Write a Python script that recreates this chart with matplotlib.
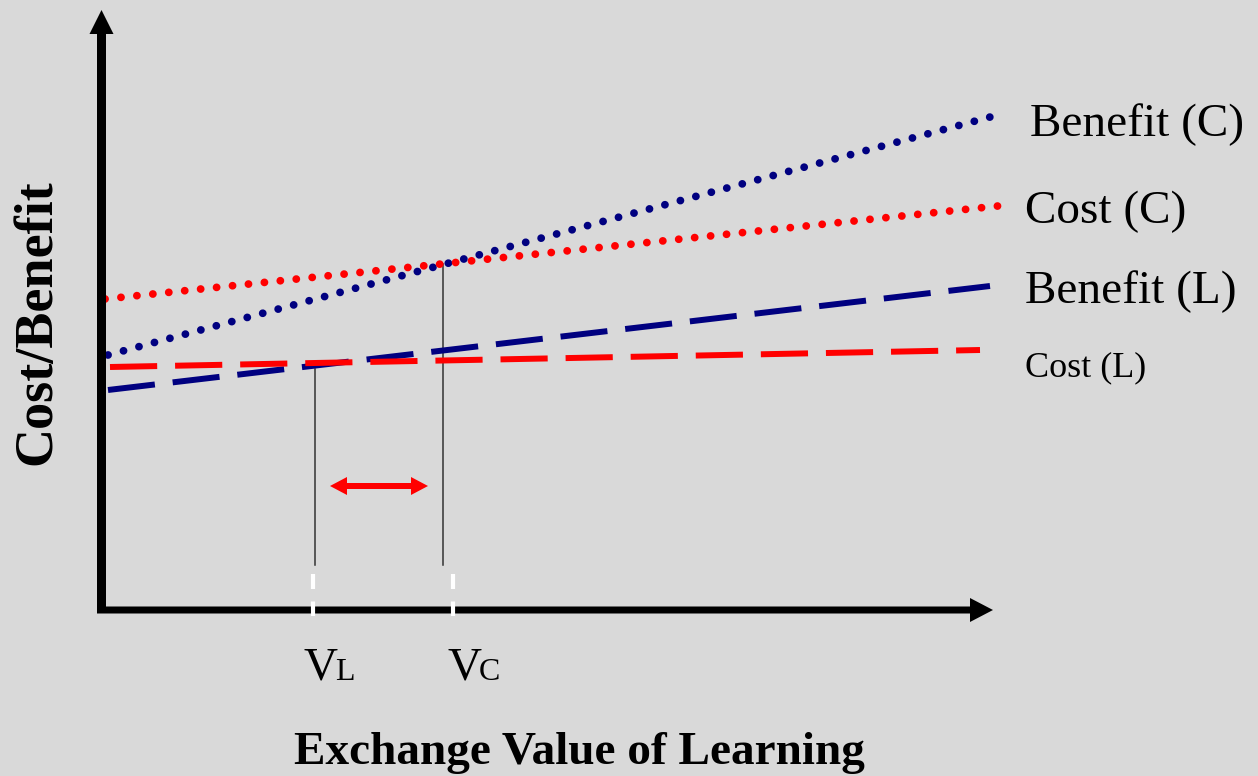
import matplotlib
matplotlib.use("Agg")
import matplotlib.pyplot as plt
from matplotlib.patches import FancyArrow
import numpy as np

# ---- data (arbitrary units; origin at axes crossing) ----
series_names = ["Benefit (C)", "Cost (C)", "Benefit (L)", "Cost (L)"]
x_start = [0.03, 0.00, 0.03, 0.05]
x_end = [9.00, 8.93, 8.85, 8.75]
y_start = [2.55, 3.11, 2.20, 2.43]
y_end = [4.97, 4.04, 3.24, 2.60]
series_colors = ["#000080", "#ff0000", "#000080", "#ff0000"]
series_kinds = ["dotted", "dotted", "dashed", "dashed"]

v_points = [2.10, 3.38]          # V_L, V_C
v_labels = [("V", "L"), ("V", "C")]
v_line_bottom = 0.45
arrow_span = [2.25, 3.23]
arrow_level = 1.24

BG = "#d9d9d9"
SERIF = ["Liberation Serif", "DejaVu Serif"]

fig = plt.figure(figsize=(12.58, 7.76), dpi=100, facecolor=BG)
ax = fig.add_axes([0, 0, 1, 1])
ax.set_facecolor(BG)
ax.set_xlim(-1.05, 11.53)
ax.set_ylim(-1.66, 6.10)
ax.axis("off")

# ---- series lines ----
for name, xs, xe, ys, ye, c, kind in zip(series_names, x_start, x_end, y_start, y_end,
                                          series_colors, series_kinds):
    if kind == "dotted":
        ax.plot([xs, xe], [ys, ye], color=c, lw=5.6, linestyle=(0, (0.01, 2.05)),
                dash_capstyle="round", zorder=3)
    else:
        ax.plot([xs, xe], [ys, ye], color=c, lw=4.3, linestyle=(0, (7.9, 3.0)),
                dash_capstyle="butt", zorder=3)

# labels of series
label_pos = {
    "Benefit (C)": (9.25, 4.85, 34),
    "Cost (C)": (9.20, 3.98, 34),
    "Benefit (L)": (9.20, 3.18, 34),
    "Cost (L)": (9.20, 2.42, 26),
}
for name in series_names:
    lx, ly, fs = label_pos[name]
    ax.text(lx, ly, name, fontsize=fs, family=SERIF, ha="left", va="center", color="black")

# ---- vertical lines at V points ----
def yval(i, x):
    return y_start[i] + (y_end[i] - y_start[i]) * (x - x_start[i]) / (x_end[i] - x_start[i])

ax.plot([v_points[0], v_points[0]], [v_line_bottom, yval(3, v_points[0]) - 0.06],
        color="#333333", lw=1.1, zorder=2)
ax.plot([v_points[1], v_points[1]], [v_line_bottom, yval(1, v_points[1])],
        color="#333333", lw=1.1, zorder=2)

# white dashes to axis
for vx in [v_points[0] - 0.02, v_points[1] + 0.10]:
    ax.plot([vx, vx], [0.36, -0.06], color="white", lw=3.0,
            linestyle=(0, (3.6, 3.0)), zorder=6)

# red double arrow (two heads from the middle)
mid = (arrow_span[0] + arrow_span[1]) / 2
for end in arrow_span:
    ax.add_patch(FancyArrow(mid, arrow_level, end - mid, 0, width=0.06, head_width=0.18,
                            head_length=0.17, length_includes_head=True,
                            color="#ff0000", lw=0, zorder=4))

# ---- axes arrows ----
ax.add_patch(FancyArrow(-0.035, -0.03, 0, 6.03 - 0.24, width=0.09, head_width=0.24,
                        head_length=0.24, length_includes_head=False,
                        color="black", zorder=5, lw=0))
ax.add_patch(FancyArrow(-0.08, 0.0, 8.88 + 0.08 - 0.23, 0, width=0.07, head_width=0.24,
                        head_length=0.23, length_includes_head=False,
                        color="black", zorder=5, lw=0))

# ---- V labels ----
for vx, (big, small), dx in zip(v_points, v_labels, [-0.12, 0.04]):
    ax.text(vx + dx, -0.70, big, fontsize=34, family=SERIF, ha="left", va="baseline")
    ax.annotate(small, xy=(vx + dx, -0.70), xytext=(32, 0), textcoords="offset pixels",
                fontsize=23, family=SERIF, ha="left", va="baseline")

# ---- axis titles ----
fig.text(579 / 1258, 1 - 753 / 776, "Exchange Value of Learning", fontsize=34,
         family=SERIF, fontweight="bold", ha="center", va="center")
fig.text(37 / 1258, 1 - 322 / 776, "Cost/Benefit", fontsize=39, family=SERIF,
         fontweight="bold", ha="center", va="center", rotation=90)

fig.savefig("out.png", dpi=100, facecolor=BG)
